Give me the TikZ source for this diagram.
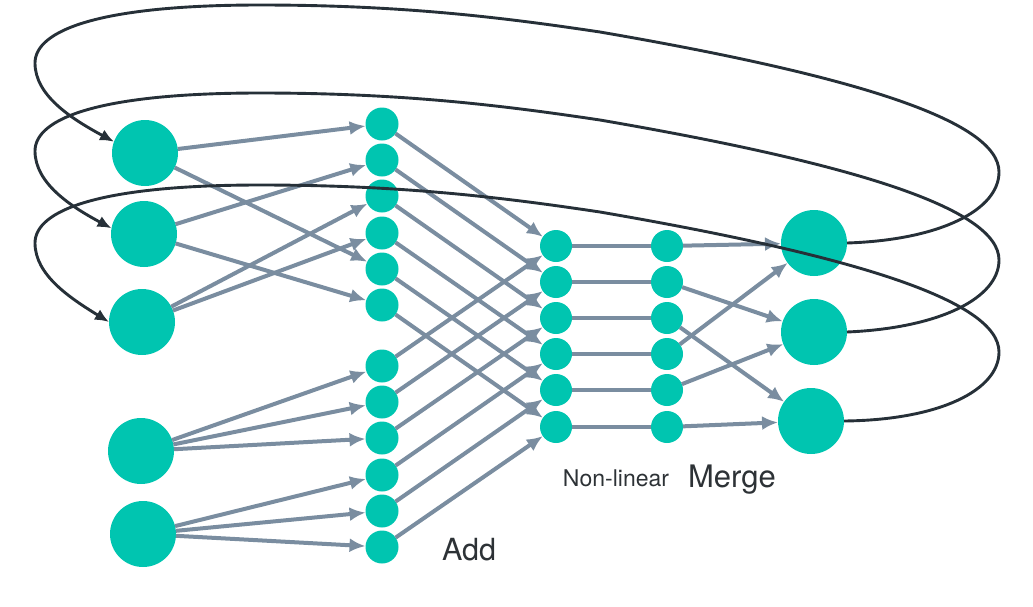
\documentclass[tikz,border=0pt]{standalone}
\usepackage{fontspec}
\setmainfont{TeX Gyre Heros}
\usetikzlibrary{arrows.meta}
\definecolor{tealnode}{RGB}{0,197,176}
\definecolor{linkgray}{RGB}{122,141,160}
\definecolor{loopdark}{RGB}{38,48,56}
\definecolor{textdark}{RGB}{45,50,54}

\begin{document}
\begin{tikzpicture}[
          x = 1pt, y = -1pt,
          minimum size = 33pt, inner sep = 0, outer sep = 0
        ]
          \tikzstyle {neuron} = [shape = circle, fill = tealnode]
          \tikzstyle {bigneuron} = [neuron, minimum size = 66pt]
          \tikzstyle {weight} = [draw = linkgray, line width = 4pt, -{Latex[length=16pt, width=14pt]}]
          \tikzstyle {pass} = [draw = linkgray, line width = 4pt]
          \tikzstyle {feedback} = [draw = loopdark, line width = 2.9pt, -{Latex[length=14pt, width=12pt]}]
          \tikzstyle {layername} = [text = textdark, anchor = base]
          \useasboundingbox (0,0) rectangle (1033,606);
          % place nodes
          \path node (h1) [bigneuron] at (145,153) {};
          \path node (h2) [bigneuron] at (144,234) {};
          \path node (h3) [bigneuron] at (142,322) {};
          \path node (x1) [bigneuron] at (141,451) {};
          \path node (x2) [bigneuron] at (143,534) {};
          \foreach \y [count=\i] in {124,160,196,233,269,305,366,402,438,475,511,547}
            { \path node (a\i) [neuron] at (382,\y) {}; } ;
          \foreach \y [count=\i] in {246,282,318,354,390,427}
            { \path node (n\i) [neuron, minimum size = 32pt] at (556,\y) {};
              \path node (m\i) [neuron, minimum size = 32pt] at (667,\y) {}; } ;
          \path node (o1) [bigneuron] at (814,243) {};
          \path node (o2) [bigneuron] at (814,332) {};
          \path node (o3) [bigneuron] at (811,421) {};
          % place labels
          \path node (addname) [layername, font = \fontsize{30.5}{36}\selectfont] at (469,560) {Add};
          \path node (nlname) [layername, font = \fontsize{23}{28}\selectfont] at (616,486) {Non-linear};
          \path node (mergename) [layername, font = \fontsize{31}{36}\selectfont] at (732,487) {Merge};
          % place edges
          \foreach \s/\t in {h1/a1, h1/a5, h2/a2, h2/a6, h3/a3, h3/a4, x1/a7, x1/a8, x1/a9, x2/a10, x2/a11, x2/a12}
            { \draw [weight] (\s) -- (\t) ; } ;
          \foreach \i [evaluate = \i as \j using int(\i+6)] in {1,...,6}
            { \draw [weight] (a\i) -- (n\i) ;
              \draw [weight] (a\j) -- (n\i) ;
              \draw [pass] (n\i) -- (m\i) ; } ;
          \foreach \s/\t in {m1/o1, m4/o1, m2/o2, m5/o2, m3/o3, m6/o3}
            { \draw [weight] (\s) -- (\t) ; } ;
          % feedback loops
          \foreach \o/\h/\a/\d in {o1/h1/160/0, o2/h2/170/88, o3/h3/180/180}
            { \draw [feedback] (\o.east) .. controls (940,{240+\d}) and (999,{210+\d}) .. (999,{172+\d})
                .. controls (999,{120+\d}) and (850,{75+\d}) .. (600,{32+\d})
                .. controls (500,{17+\d}) and (400,{5+\d}) .. (260,{5+\d})
                .. controls (100,{5+\d}) and (35,{30+\d}) .. (35,{63+\d})
                .. controls (35,{95+\d}) and (70,{118+\d}) .. (\h.\a) ; } ;
        \end{tikzpicture}
\end{document}
